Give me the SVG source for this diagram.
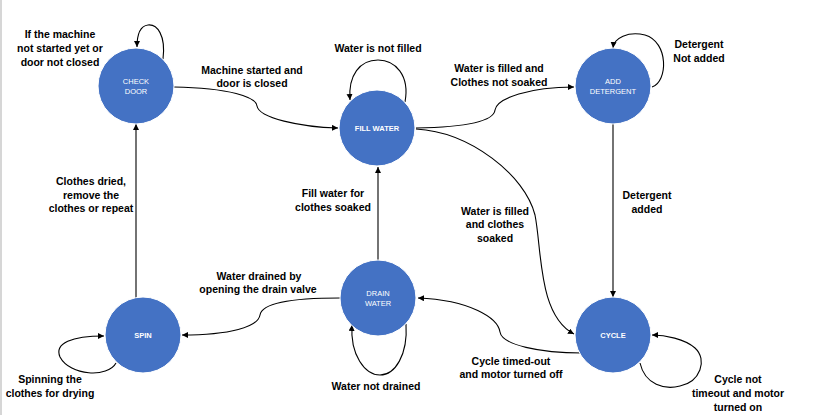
<svg xmlns="http://www.w3.org/2000/svg" width="829" height="415" viewBox="0 0 829 415">
<defs>
<marker id="arr" markerWidth="8" markerHeight="8" refX="6" refY="3" orient="auto" markerUnits="userSpaceOnUse">
<path d="M0,0 L6,3 L0,6 Z" fill="#000"/>
</marker>
<style>
.node{fill:#4472C4;stroke:#fff;stroke-width:1}
.nt{font-family:"Liberation Sans",Arial,sans-serif;font-size:7.5px;fill:#fff;text-anchor:middle}
.nb{font-weight:bold}
.lbl{font-family:"Liberation Sans",Arial,sans-serif;font-size:10.5px;font-weight:bold;fill:#000;text-anchor:middle}
.c{fill:none;stroke:#000;stroke-width:1.1;marker-end:url(#arr)}
</style>
</defs>
<rect width="829" height="415" fill="#fff"/>
<line x1="1" y1="0" x2="1" y2="415" stroke="#c8c8c8" stroke-width="1.5"/>
<g id="connectors">
<path class="c" d="M163,59 C166,35 157,24 148,25 C140,26 137,36 137,47"/>
<path class="c" d="M174,87 C230,88 256,97 257,106 C259,118 300,127 338,128"/>
<path class="c" d="M405,102 C410,75 395,60 378,60 C360,60 348,75 350,100"/>
<path class="c" d="M416,128 C470,127 494,120 495,110 C497,98 530,87 574,87"/>
<path class="c" d="M652,87 C668,82 669,42 645,35 C628,31 614,38 613,48"/>
<path class="c" d="M416,129 C470,132 525,175 535,215 C542,250 538,315 574,334"/>
<path class="c" d="M613,124 L613,297"/>
<path class="c" d="M640,363 C645,385 665,390 680,386 C700,382 708,360 695,348 C685,339 665,335 652,335"/>
<path class="c" d="M582,353 C540,353 502,345 500,332 C498,318 470,300 418,298"/>
<path class="c" d="M406,324 C408,355 395,375 380,375 C365,375 350,355 352,325"/>
<path class="c" d="M378,261 L378,167"/>
<path class="c" d="M340,298 C290,298 262,303 260,315 C258,327 230,335 182,335"/>
<path class="c" d="M136,299 L136,124"/>
<path class="c" d="M116,363 C108,378 70,376 60,357 C54,343 72,336 104,336"/>
</g>
<g id="check-door"><circle class="node" cx="136" cy="86" r="38"/><text class="nt" x="136" y="83.5">CHECK</text><text class="nt" x="136" y="93.5">DOOR</text></g>
<g id="fill-water"><circle class="node" cx="377" cy="128" r="38"/><text class="nt nb" x="377" y="130.5">FILL WATER</text></g>
<g id="add-detergent"><circle class="node" cx="613" cy="86" r="38"/><text class="nt" x="613" y="83.5">ADD</text><text class="nt" x="613" y="93.5">DETERGENT</text></g>
<g id="spin"><circle class="node" cx="143" cy="335" r="38"/><text class="nt nb" x="143" y="337.5">SPIN</text></g>
<g id="drain-water"><circle class="node" cx="378" cy="298" r="38"/><text class="nt" x="378" y="295.5">DRAIN</text><text class="nt" x="378" y="305.5">WATER</text></g>
<g id="cycle"><circle class="node" cx="613" cy="335" r="38"/><text class="nt nb" x="613" y="337.5">CYCLE</text></g>
<g id="labels">
<text class="lbl" x="60" y="38">If the machine</text>
<text class="lbl" x="60" y="52">not started yet or</text>
<text class="lbl" x="60" y="66">door not closed</text>
<text class="lbl" x="252" y="74">Machine started and</text>
<text class="lbl" x="252" y="87">door is closed</text>
<text class="lbl" x="378" y="52">Water is not filled</text>
<text class="lbl" x="499" y="72">Water is filled and</text>
<text class="lbl" x="499" y="86">Clothes not soaked</text>
<text class="lbl" x="699" y="48">Detergent</text>
<text class="lbl" x="699" y="62">Not added</text>
<text class="lbl" x="91" y="185">Clothes dried,</text>
<text class="lbl" x="91" y="199">remove the</text>
<text class="lbl" x="91" y="212">clothes or repeat</text>
<text class="lbl" x="333" y="197">Fill water for</text>
<text class="lbl" x="333" y="211">clothes soaked</text>
<text class="lbl" x="495" y="215">Water is filled</text>
<text class="lbl" x="495" y="228">and clothes</text>
<text class="lbl" x="495" y="242">soaked</text>
<text class="lbl" x="647" y="199">Detergent</text>
<text class="lbl" x="647" y="213">added</text>
<text class="lbl" x="259" y="280">Water drained by</text>
<text class="lbl" x="258" y="293">opening the drain valve</text>
<text class="lbl" x="50" y="383">Spinning the</text>
<text class="lbl" x="50" y="397">clothes for drying</text>
<text class="lbl" x="376" y="390">Water not drained</text>
<text class="lbl" x="511" y="365">Cycle timed-out</text>
<text class="lbl" x="511" y="378">and motor turned off</text>
<text class="lbl" x="738" y="383">Cycle not</text>
<text class="lbl" x="738" y="397">timeout and motor</text>
<text class="lbl" x="738" y="411">turned on</text>
</g>
</svg>
